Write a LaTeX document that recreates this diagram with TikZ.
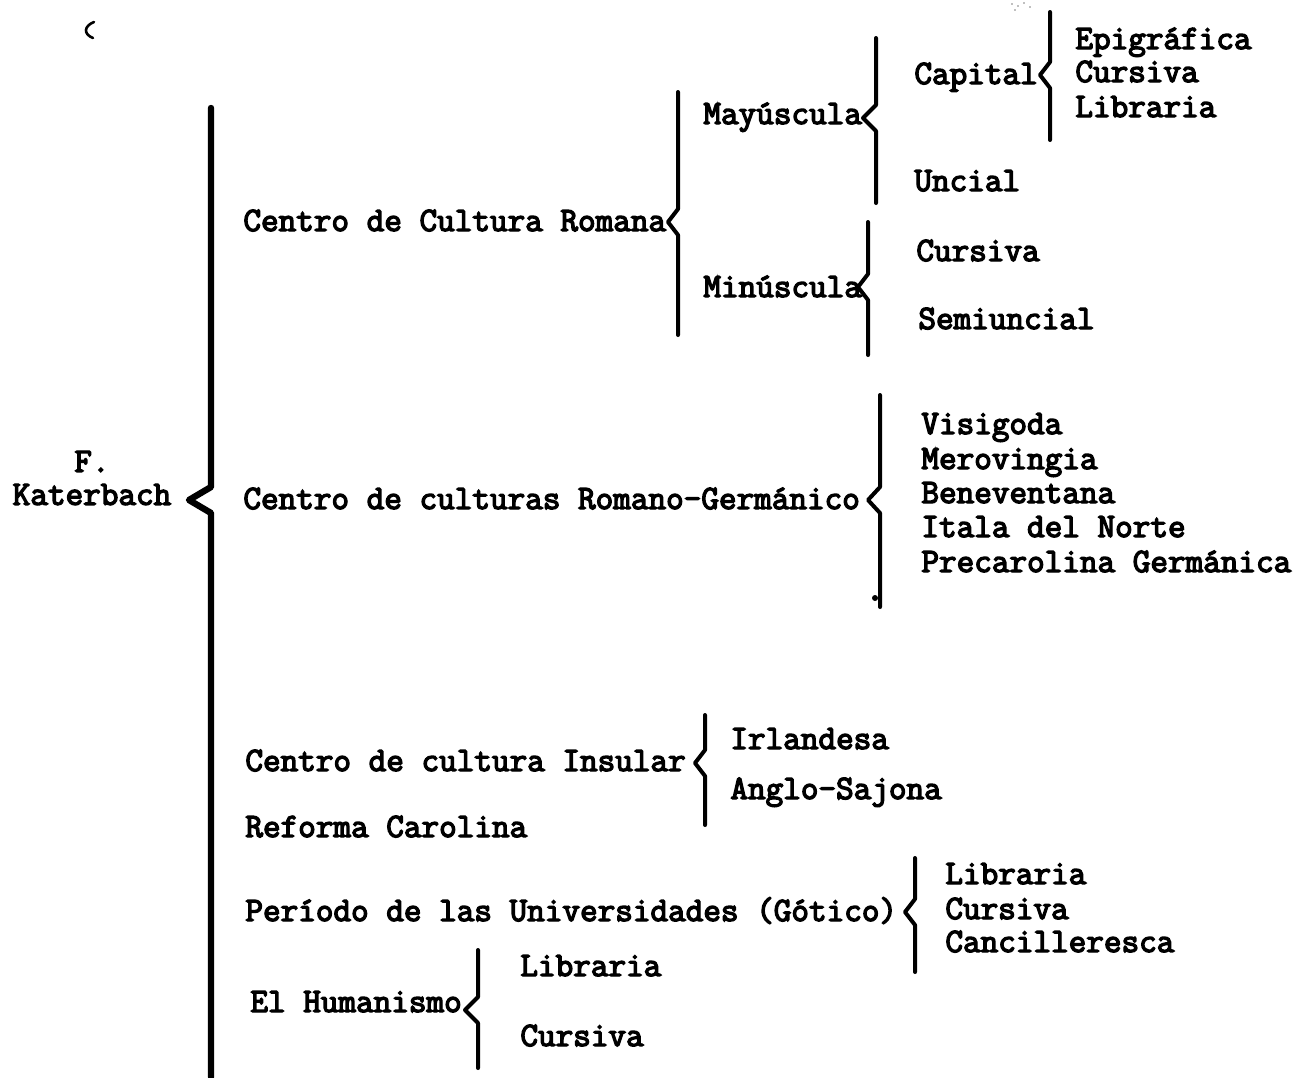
\documentclass[tikz,border=0pt]{standalone}
\usepackage{fontspec}
\newfontfamily\maquina{Latin Modern Mono}[FakeBold=4]
\usetikzlibrary{positioning}

\tikzset{
  escrito/.style={anchor=base west, inner sep=0pt, font=\maquina\fontsize{17.1}{17.5}\selectfont},
  llave/.style={line width=2pt, line join=round, line cap=round},
  llavemayor/.style={llave, line width=3.2pt},
}
% brace: x, top, cusp y, bottom, depth
\newcommand{\llave}[6][llave]{%
  \draw[#1] (#2,#3) -- (#2,#4-13) -- (#2-#6,#4) -- (#2,#4+13) -- (#2,#5);}

\begin{document}
\begin{tikzpicture}[x=0.5pt,y=-0.5pt]
  \useasboundingbox (0,0) rectangle (1309,1077);

  % stray marks of the original sheet
  \draw[line width=1.3pt, line cap=round] (94,22) .. controls (84,26) and (83,34) .. (93,38);
  \foreach \p in {(1012,4),(1018,6),(1024,3),(1030,7),(1015,10)}
    \fill[gray] \p circle (0.9);

  % root
  \node[escrito, anchor=center, align=center] (katerbach) at (92,478) {F.\\[-1pt]Katerbach};
  \llave[llavemayor]{211}{108}{500}{1077}{22}

  % Centro de Cultura Romana
  \node[escrito] (romana) at (243,231) {Centro de Cultura Romana};
  \llave{678}{92}{222}{335}{10}
  \node[escrito] (mayus) at (703,124) {Mayúscula};
  \llave{876}{38}{118}{203}{13}
  \node[escrito] (capital) at (914,84) {Capital};
  \llave{1050}{12}{75}{140}{10}
  \foreach \n/\t/\y in {epigrafica/Epigráfica/49, cursivaA/Cursiva/82, libreriaA/Libraria/117}
    \node[escrito] (\n) at (1075,\y) {\t};
  \node[escrito] (uncial) at (914,191) {Uncial};
  \node[escrito] (minus) at (703,297) {Minúscula};
  \llave{868}{222}{287}{355}{10}
  \node[escrito] (cursivaB) at (916,261) {Cursiva};
  \node[escrito] (semiuncial) at (918,329) {Semiuncial};

  % Centro de culturas Romano-Germanico
  \node[escrito] (germanico) at (243,509) {Centro de culturas Romano-Germánico};
  \llave{880}{395}{500}{607}{12}
  \fill (875,598) circle (3);
  \foreach \n/\t/\y in {visigoda/Visigoda/434, merovingia/Merovingia/469, beneventana/Beneventana/503,
                        itala/Itala del Norte/537, precarolina/Precarolina Germánica/572}
    \node[escrito] (\n) at (921,\y) {\t};

  % Centro de cultura Insular
  \node[escrito] (insular) at (245,771) {Centro de cultura Insular};
  \llave{705}{715}{763}{825}{10}
  \node[escrito] (irlandesa) at (730,749) {Irlandesa};
  \node[escrito] (anglo) at (730,799) {Anglo-Sajona};

  \node[escrito] (reforma) at (245,837) {Reforma Carolina};

  % Periodo de las Universidades
  \node[escrito] (gotico) at (245,921) {Período de las Universidades (Gótico)};
  \llave{915}{858}{912}{972}{10}
  \foreach \n/\t/\y in {libreriaB/Libraria/884, cursivaC/Cursiva/919, cancilleresca/Cancilleresca/952}
    \node[escrito] (\n) at (945,\y) {\t};

  % El Humanismo
  \node[escrito] (humanismo) at (250,1012) {El Humanismo};
  \llave{478}{950}{1010}{1068}{13}
  \node[escrito] (libreriaC) at (520,976) {Libraria};
  \node[escrito] (cursivaD) at (520,1046) {Cursiva};
\end{tikzpicture}
\end{document}
